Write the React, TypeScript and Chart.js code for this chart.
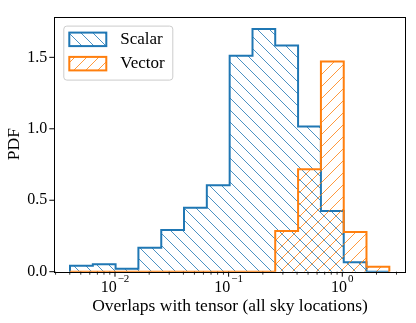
import React, { useEffect, useRef } from 'react';
import { Chart, registerables } from 'chart.js';

Chart.register(...registerables);

// Histogram bin edges (log-spaced)
const binEdges = [0.004018, 0.006383, 0.01012, 0.01607, 0.02553, 0.04046, 0.06427, 0.1021, 0.1622, 0.257, 0.4083, 0.6486, 1.03, 1.633, 2.594];
// PDF heights per bin
const scalarPdf = [0.041, 0.052, 0.02, 0.168, 0.291, 0.448, 0.605, 1.511, 1.698, 1.582, 1.016, 0.425, 0.066, 0];
const vectorPdf = [0, 0, 0, 0, 0, 0, 0, 0, 0, 0.284, 0.716, 1.47, 0.277, 0.034];
const seriesLabels = ['Scalar', 'Vector'];
const seriesColors = ['#1f77b4', '#ff7f0e'];
const seriesHatch = ['\\', '/'];

const xMin = 0.002924;
const xMax = 3.614;
const yMin = 0;
const yMax = 1.785;
const xMajorTicks = [0.01, 0.1, 1];
const xMajorBase = ['10', '10', '10'];
const xMajorExp = ['−2', '−1', '0'];
const yTicks = [0, 0.5, 1.0, 1.5];
const yTickLabels = ['0.0', '0.5', '1.0', '1.5'];
const xTitle = 'Overlaps with tensor (all sky locations)';
const yTitle = 'PDF';

const FONT = "'Liberation Serif', 'DejaVu Serif', serif";

function histOutline(edges: number[], heights: number[]) {
  const pts: { x: number; y: number }[] = [{ x: edges[0], y: 0 }];
  heights.forEach((h, i) => {
    pts.push({ x: edges[i], y: h });
    pts.push({ x: edges[i + 1], y: h });
  });
  pts.push({ x: edges[edges.length - 1], y: 0 });
  return pts;
}

function makeHatch(color: string, dir: string) {
  const size = 12;
  const c = document.createElement('canvas');
  c.width = size;
  c.height = size;
  const g = c.getContext('2d')!;
  g.strokeStyle = color;
  g.globalAlpha = 0.8;
  g.lineWidth = 1;
  for (let k = -1; k <= 1; k++) {
    const off = k * size;
    g.beginPath();
    if (dir === '\\') {
      g.moveTo(off, 0);
      g.lineTo(off + size, size);
    } else {
      g.moveTo(off, size);
      g.lineTo(off + size, 0);
    }
    g.stroke();
  }
  return g.createPattern(c, 'repeat')!;
}

function logTicks(min: number, max: number) {
  const out: { value: number; major: boolean }[] = [];
  for (let e = Math.floor(Math.log10(min)); e <= Math.ceil(Math.log10(max)); e++) {
    for (let k = 1; k <= 9; k++) {
      const v = k * Math.pow(10, e);
      if (v >= min && v <= max) out.push({ value: v, major: k === 1 });
    }
  }
  return out;
}

const decorPlugin = {
  id: 'decor',
  afterDatasetsDraw(chart: any) {
    const { ctx, chartArea: a, scales } = chart;
    ctx.save();
    // frame
    ctx.strokeStyle = '#000';
    ctx.lineWidth = 1;
    ctx.strokeRect(Math.round(a.left) + 0.5, Math.round(a.top) + 0.5, Math.round(a.right - a.left), Math.round(a.bottom - a.top));
    // x ticks
    scales.x.ticks.forEach((t: any) => {
      const px = scales.x.getPixelForValue(t.value);
      const len = t.major ? 5 : 3;
      ctx.lineWidth = t.major ? 1 : 0.8;
      ctx.beginPath();
      ctx.moveTo(px, a.bottom);
      ctx.lineTo(px, a.bottom + len);
      ctx.stroke();
    });
    // x tick labels (base with superscript exponent)
    ctx.fillStyle = '#000';
    ctx.textBaseline = 'alphabetic';
    ctx.textAlign = 'left';
    xMajorTicks.forEach((v, i) => {
      const px = scales.x.getPixelForValue(v);
      ctx.font = `16px ${FONT}`;
      const wb = ctx.measureText(xMajorBase[i]).width;
      ctx.font = `11px ${FONT}`;
      const we = ctx.measureText(xMajorExp[i]).width;
      const x0 = px - (wb + we + 1) / 2;
      ctx.font = `16px ${FONT}`;
      ctx.fillText(xMajorBase[i], x0, a.bottom + 20);
      ctx.font = `11px ${FONT}`;
      ctx.fillText(xMajorExp[i], x0 + wb + 1, a.bottom + 10.5);
    });
    // y ticks
    scales.y.ticks.forEach((t: any) => {
      const py = scales.y.getPixelForValue(t.value);
      ctx.lineWidth = 1;
      ctx.beginPath();
      ctx.moveTo(a.left - 5, py);
      ctx.lineTo(a.left, py);
      ctx.stroke();
    });
    // legend
    const lx = a.left + 9;
    const ly = a.top + 9;
    const lw = 109;
    const lh = 54;
    ctx.beginPath();
    ctx.roundRect(lx + 0.5, ly + 0.5, lw, lh, 3);
    ctx.fillStyle = 'rgba(255,255,255,0.8)';
    ctx.fill();
    ctx.strokeStyle = '#cccccc';
    ctx.lineWidth = 1;
    ctx.stroke();
    chart.data.datasets.forEach((ds: any, i: number) => {
      const py = ly + 7 + i * 24.3;
      ctx.fillStyle = ds.backgroundColor;
      ctx.fillRect(lx + 6, py, 37, 13.5);
      ctx.strokeStyle = ds.borderColor;
      ctx.lineWidth = 2;
      ctx.strokeRect(lx + 6, py, 37, 13.5);
      ctx.fillStyle = '#000';
      ctx.font = `17px ${FONT}`;
      ctx.textBaseline = 'middle';
      ctx.textAlign = 'left';
      ctx.fillText(ds.label, lx + 57, py + 7);
    });
    ctx.restore();
  },
};

export default function App() {
  const ref = useRef<HTMLCanvasElement>(null);
  useEffect(() => {
    const canvas = ref.current!;
    const datasets = [scalarPdf, vectorPdf].map((h, i) => ({
      label: seriesLabels[i],
      data: histOutline(binEdges, h),
      borderColor: seriesColors[i],
      backgroundColor: makeHatch(seriesColors[i], seriesHatch[i]),
      borderWidth: 2,
      pointRadius: 0,
      tension: 0,
      fill: 'origin',
      order: 1 - i,
      borderJoinStyle: 'miter',
    }));
    const chart = new Chart(canvas, {
      type: 'line',
      data: { datasets } as any,
      options: {
        animation: false,
        responsive: false,
        devicePixelRatio: 1,
        layout: { padding: { top: 10, right: 10.3, left: 0, bottom: 0 } },
        plugins: { legend: { display: false }, tooltip: { enabled: false } },
        scales: {
          x: {
            type: 'logarithmic',
            min: xMin,
            max: xMax,
            grid: { display: false, drawTicks: false },
            border: { display: false },
            afterBuildTicks: (scale: any) => {
              scale.ticks = logTicks(xMin, xMax);
            },
            afterFit: (scale: any) => {
              scale.height = 51.3;
            },
            ticks: { display: false, autoSkip: false },
            title: {
              display: true,
              text: xTitle,
              color: '#000',
              font: { family: FONT, size: 17.5 },
              padding: { top: 0, bottom: 6.5 },
            },
          },
          y: {
            type: 'linear',
            min: yMin,
            max: yMax,
            grid: { display: false, drawTicks: false },
            border: { display: false },
            afterBuildTicks: (scale: any) => {
              scale.ticks = yTicks.map((v) => ({ value: v }));
            },
            afterFit: (scale: any) => {
              scale.width = 54.3;
            },
            ticks: {
              padding: 7,
              color: '#000',
              font: { family: FONT, size: 16 },
              callback: (value: any) => {
                const idx = yTicks.findIndex((t) => Math.abs(t - value) < 1e-9);
                return idx >= 0 ? yTickLabels[idx] : '';
              },
            },
            title: {
              display: true,
              text: yTitle,
              color: '#000',
              font: { family: FONT, size: 17.5 },
              padding: { top: 3.5, bottom: 0 },
            },
          },
        },
      } as any,
      plugins: [decorPlugin],
    });
    return () => chart.destroy();
  }, []);
  return (
    <div style={{ position: 'fixed', left: 0, top: 0, width: 416, height: 323, background: '#fff' }}>
      <canvas ref={ref} width={416} height={323} style={{ display: 'block' }} />
    </div>
  );
}
